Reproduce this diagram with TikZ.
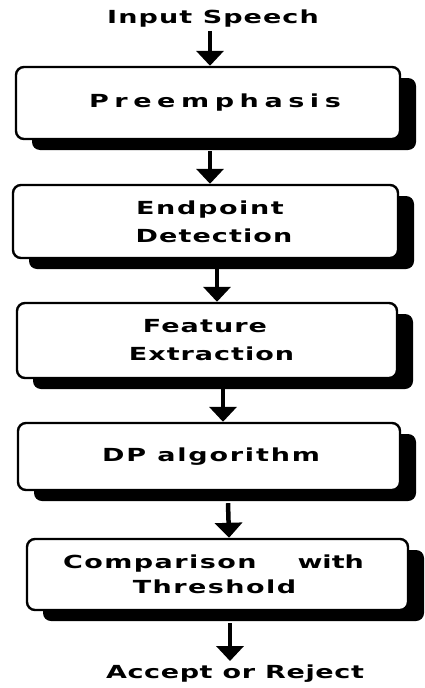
\documentclass[tikz,border=0pt]{standalone}
\usepackage{fontspec}
\setmainfont{DejaVu Sans}[FakeStretch=1.5,LetterSpace=6]
\usetikzlibrary{shadows,arrows.meta}
\newcommand{\ls}[1]{\addfontfeature{LetterSpace=#1}}
\begin{document}
\begin{tikzpicture}[x=1pt,y=-1pt,
  stepbox/.style={draw=black,line width=2.4pt,rounded corners=8pt,fill=white,
    inner sep=0pt,align=center,font=\fontsize{18}{27}\selectfont\bfseries,
    drop shadow={shadow xshift=16pt,shadow yshift=-11pt,fill=black,opacity=1}},
  lbl/.style={font=\fontsize{18}{24}\selectfont\bfseries,inner sep=0pt},
  arr/.style={line width=4.5pt,-{Triangle[length=15pt,width=27pt]}}]
\useasboundingbox (0,0) rectangle (425,688);
\node[lbl] (in) at (213,19) {Input Speech};
\node[stepbox,minimum width=384pt,minimum height=72pt] (b1) at (208,103) {\hspace*{14pt}{\ls{31}Preemphasis}};
\node[stepbox,minimum width=385pt,minimum height=73pt] (b2) at (205.5,221.5) {\hspace*{9pt}{\ls{9}Endpoint}\\[1pt]\hspace*{17pt}{\ls{6}Detection}};
\node[stepbox,minimum width=380pt,minimum height=75pt] (b3) at (207,340.5) {\hspace*{-4pt}{\ls{6}Feature}\\[1pt]\hspace*{9pt}{\ls{5.5}Extraction}};
\node[stepbox,minimum width=382pt,minimum height=67pt] (b4) at (209,456.5) {\hspace*{4pt}{\ls{10}DP algorithm}};
\node[stepbox,minimum width=381pt,minimum height=71pt] (b5) at (217.5,574.5) {\hspace*{-8pt}{\ls{8}Comparison}\hspace{41pt}{\ls{0}with}\\[-2pt]\hspace*{-6pt}{\ls{8}Threshold}};
\node[lbl,font=\fontsize{18}{24}\selectfont\bfseries\addfontfeature{LetterSpace=3.5}] (out) at (235,674) {Accept or Reject};
\draw[arr] ([xshift=-3pt,yshift=-3pt]in.south) -- ([xshift=2pt]b1.north);
\draw[arr] ([xshift=2pt,yshift=-11pt]b1.south) -- ([xshift=4.5pt]b2.north);
\draw[arr] ([xshift=11.5pt,yshift=-9pt]b2.south) -- ([xshift=10pt]b3.north);
\draw[arr] ([xshift=16pt,yshift=-9pt]b3.south) -- ([xshift=14pt]b4.north);
\draw[arr] ([xshift=19pt,yshift=-12pt]b4.south) -- ([xshift=11.5pt]b5.north);
\draw[arr] ([xshift=12.5pt,yshift=-12pt]b5.south) -- ([xshift=-5pt,yshift=4pt]out.north);
\end{tikzpicture}
\end{document}
